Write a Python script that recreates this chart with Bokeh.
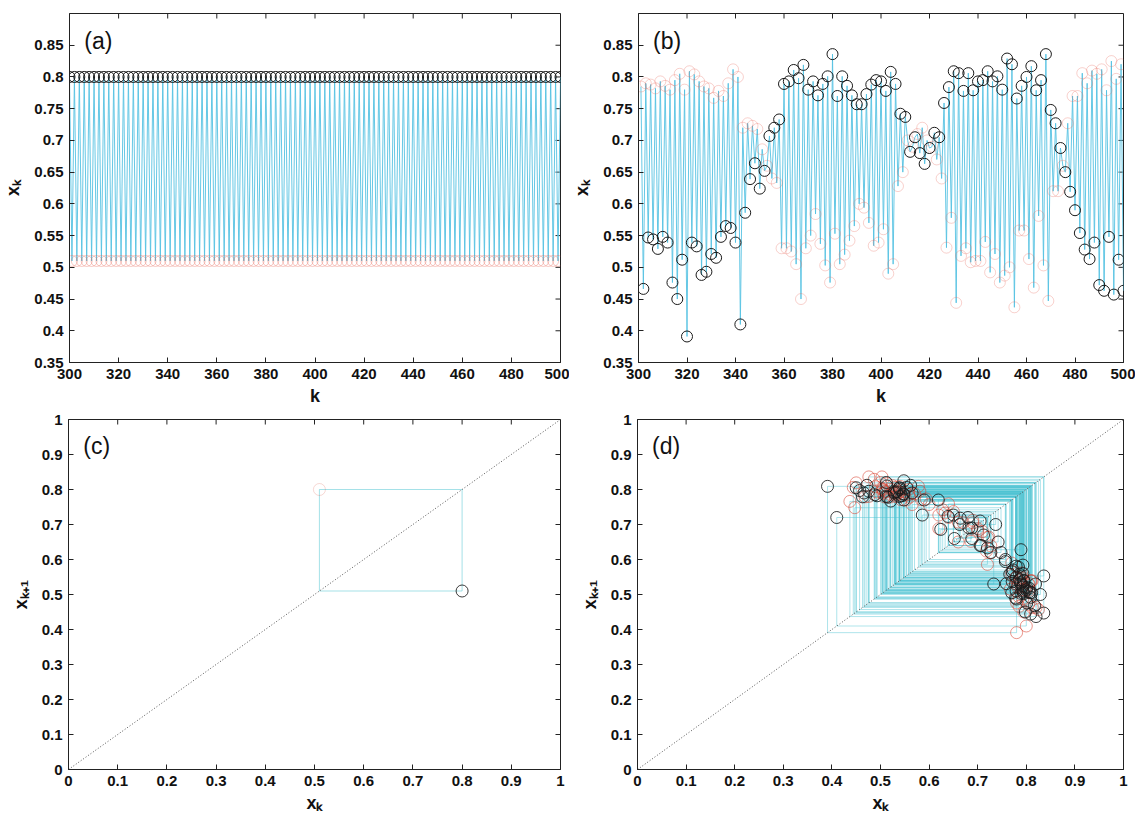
import numpy as np
from bokeh.plotting import figure
from bokeh.models import FixedTicker, Label, Range1d
from bokeh.layouts import column, row
from bokeh.embed import file_html
from bokeh.resources import INLINE

# ---------------- data ----------------
# (a) period-2 orbit, k = 300..500 (even k -> upper level, odd k -> lower level)
a_k_first, a_k_last = 300, 500
a_levels = [0.80, 0.51]

# (b) irregular orbit, k = 301..500
b_k_first = 301
b_odd = [0.785, 0.79, 0.788, 0.782, 0.793, 0.786, 0.78, 0.795, 0.805, 0.78,
         0.809, 0.804, 0.793, 0.785, 0.782, 0.767, 0.778, 0.77, 0.79, 0.812, 0.8,
         0.72, 0.727, 0.723, 0.718, 0.686, 0.66, 0.64, 0.633, 0.53,
         0.53, 0.525, 0.505, 0.45, 0.53, 0.55, 0.584, 0.537, 0.503, 0.476,
         0.553, 0.505, 0.52, 0.542, 0.565, 0.6, 0.594, 0.57, 0.534, 0.539,
         0.56, 0.49, 0.505, 0.628, 0.65,
         0.7, 0.69, 0.71, 0.72, 0.7, 0.69, 0.67, 0.64,
         0.531, 0.578, 0.444, 0.518, 0.53, 0.508, 0.51, 0.51, 0.54, 0.492,
         0.521, 0.476, 0.487, 0.5, 0.437, 0.558, 0.558, 0.513, 0.468, 0.581,
         0.503, 0.447,
         0.62, 0.62, 0.66, 0.727, 0.77, 0.77, 0.806, 0.79, 0.81, 0.805,
         0.812, 0.779, 0.825, 0.797, 0.82]
b_even = [0.466, 0.547, 0.544, 0.529, 0.548, 0.539, 0.476, 0.45, 0.512, 0.391,
          0.539, 0.533, 0.488, 0.493, 0.521, 0.515, 0.548, 0.565, 0.562, 0.539,
          0.41, 0.586, 0.639, 0.664, 0.624, 0.652, 0.707, 0.72, 0.733, 0.789,
          0.793, 0.811, 0.798, 0.819, 0.78, 0.793, 0.771, 0.789, 0.801, 0.836,
          0.77, 0.801, 0.786, 0.771, 0.757, 0.757, 0.773, 0.788, 0.795, 0.793,
          0.778, 0.808, 0.789, 0.742, 0.737, 0.682, 0.705, 0.68, 0.663, 0.688,
          0.712, 0.705, 0.759, 0.784, 0.809, 0.806, 0.778, 0.806, 0.779, 0.793,
          0.795, 0.809, 0.793, 0.801, 0.78, 0.829, 0.82, 0.766, 0.786, 0.8,
          0.817, 0.779, 0.795, 0.836, 0.748, 0.727, 0.688, 0.65, 0.619, 0.59,
          0.554, 0.528, 0.513, 0.539, 0.472, 0.463, 0.548, 0.457, 0.512, 0.463]

ts_x_ticks = ["300", "320", "340", "360", "380", "400", "420", "440", "460", "480", "500"]
ts_y_ticks = ["0.35", "0.4", "0.45", "0.5", "0.55", "0.6", "0.65", "0.7", "0.75", "0.8", "0.85"]
map_ticks = ["0", "0.1", "0.2", "0.3", "0.4", "0.5", "0.6", "0.7", "0.8", "0.9", "1"]

ts_xlim = (300, 500)
ts_ylim = (0.35, 0.9)
map_lim = (0.0, 1.0)

# ---------------- derived series ----------------
a_k = np.arange(a_k_first, a_k_last + 1)
a_x = np.array([a_levels[(k - a_k_first) % 2] for k in a_k])

b_x = np.empty(len(b_odd) + len(b_even))
b_x[0::2] = b_odd
b_x[1::2] = b_even
b_k = np.arange(b_k_first, b_k_first + len(b_x))

LINE = "#55c2e2"
MAPLINE = "#4cc4d2"
BLACK = "#1a1a1a"
RED = "#e8665a"
FONT = "Liberation Sans"


def tick_cfg(ax, labels):
    vals = [float(s) for s in labels]
    ax.ticker = FixedTicker(ticks=vals)
    ax.major_label_overrides = {v: s for v, s in zip(vals, labels)}
    ax.major_tick_in = 5
    ax.major_tick_out = 0
    ax.minor_tick_in = 0
    ax.minor_tick_out = 0
    ax.axis_line_color = "#222222"
    ax.major_tick_line_color = "#222222"
    ax.major_label_text_font = FONT
    ax.major_label_text_font_style = "bold"
    ax.major_label_text_font_size = "15px"
    ax.major_label_text_color = "#111111"
    ax.major_label_standoff = 6
    ax.axis_label_text_font = FONT
    ax.axis_label_text_font_style = "bold"
    ax.axis_label_text_font_size = "18px"
    ax.axis_label_text_color = "#111111"


def make_fig(xlim, ylim, xlabels, ylabels, xtitle, ytitle, w, h, bl, br, bt, bb):
    p = figure(width=w, height=h, x_range=Range1d(*xlim), y_range=Range1d(*ylim),
               output_backend="svg", toolbar_location=None,
               min_border_left=bl, min_border_right=br,
               min_border_top=bt, min_border_bottom=bb)
    p.grid.visible = False
    p.outline_line_color = "#222222"
    p.background_fill_color = "white"
    p.border_fill_color = "white"
    tick_cfg(p.xaxis[0], xlabels)
    tick_cfg(p.yaxis[0], ylabels)
    p.xaxis.axis_label = xtitle
    p.yaxis.axis_label = ytitle
    p.xaxis.axis_label_standoff = 4
    p.yaxis.axis_label_standoff = 8
    # mirrored inward ticks on top and right edges (box on)
    xv = [float(s) for s in xlabels]
    yv = [float(s) for s in ylabels]
    p.ray(x=xv, y=[ylim[1]] * len(xv), length=5, angle=-np.pi / 2,
          length_units="screen", line_color="#222222", line_width=1)
    p.ray(x=[xlim[1]] * len(yv), y=yv, length=5, angle=np.pi,
          length_units="screen", line_color="#222222", line_width=1)
    return p


def panel_letter(p, x, y, txt):
    p.add_layout(Label(x=x, y=y, text=txt, text_font=FONT, text_font_size="23px",
                       text_color="#111111", text_baseline="top", text_align="left"))


def ts_panel(k, x, letter, w, bl, br, red_alpha):
    p = make_fig(ts_xlim, ts_ylim, ts_x_ticks, ts_y_ticks, "k", "xₖ", w, 408, bl, br, 13, 46)
    p.line(k, x, line_color=LINE, line_width=1, line_alpha=0.9)
    odd = (k % 2) == 1
    p.scatter(k[odd], x[odd], marker="circle", size=11, fill_color=None,
              line_color=RED, line_alpha=red_alpha, line_width=1)
    p.scatter(k[~odd], x[~odd], marker="circle", size=11, fill_color=None,
              line_color=BLACK, line_width=1)
    panel_letter(p, ts_xlim[0] + 6, 0.877, letter)
    return p


def uniq_rows(*cols):
    arr = np.unique(np.column_stack(cols), axis=0)
    return [arr[:, i] for i in range(arr.shape[1])]


def map_panel(x, k, letter, w, bl, br, line_alpha, red_alpha, black_alpha):
    p = make_fig(map_lim, map_lim, map_ticks, map_ticks, "xₖ", "xₖ₊₁", w, 407, bl, br, 11, 46)
    x0 = x[:-2]
    x1 = x[1:-1]
    x2 = x[2:]
    # cobweb: vertical then horizontal steps (duplicates removed)
    vx, vy0, vy1 = uniq_rows(x1, x1, x2)
    hx0, hy, hx1 = uniq_rows(x0, x1, x1)
    p.segment(x0=vx, y0=vy0, x1=vx, y1=vy1, line_color=MAPLINE, line_alpha=line_alpha, line_width=1)
    p.segment(x0=hx0, y0=hy, x1=hx1, y1=hy, line_color=MAPLINE, line_alpha=line_alpha, line_width=1)
    # identity line spanning the axis limits
    p.line(list(map_lim), list(map_lim), line_color="#555555", line_dash="1 2", line_width=1)
    px = x[:-1]
    py = x[1:]
    odd = (k[:-1] % 2) == 1
    rx, ry = uniq_rows(px[odd], py[odd])
    bx, by = uniq_rows(px[~odd], py[~odd])
    p.scatter(rx, ry, marker="circle", size=12, fill_color=None,
              line_color="#d8402e", line_alpha=red_alpha, line_width=1)
    p.scatter(bx, by, marker="circle", size=12, fill_color=None,
              line_color=BLACK, line_alpha=black_alpha, line_width=1)
    panel_letter(p, 0.03, 0.962, letter)
    return p


pa = ts_panel(a_k, a_x, "(a)", 569, 68, 9, 0.35)
pb = ts_panel(b_k, b_x, "(b)", 566, 68, 12, 0.3)
pc = map_panel(a_x, a_k, "(c)", 569, 68, 9, 0.5, 0.2, 0.85)
pd = map_panel(b_x, b_k, "(d)", 566, 68, 12, 0.45, 0.55, 0.85)

layout = column(row(pa, pb), row(pc, pd))
open("out.html", "w").write(file_html(layout, INLINE))
